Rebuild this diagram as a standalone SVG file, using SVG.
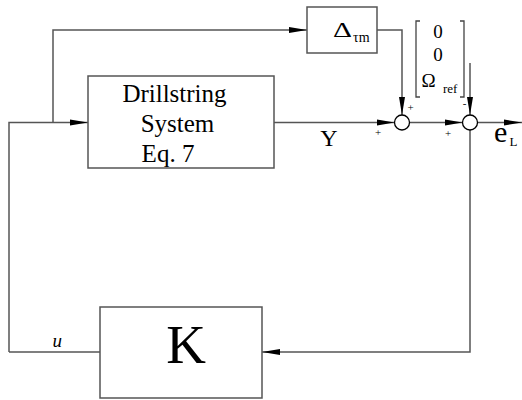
<svg xmlns="http://www.w3.org/2000/svg" width="522" height="400" viewBox="0 0 522 400">
<style>
.ln{fill:none;stroke:#555;stroke-width:1.5}
.bx{fill:#fff;stroke:#555;stroke-width:1.5}
.sj{fill:#fff;stroke:#000;stroke-width:1.3}
.t{font-family:"Liberation Serif","Times New Roman",serif;fill:#000}
</style>
<defs>
<marker id="ah" markerUnits="userSpaceOnUse" markerWidth="18" markerHeight="8" refX="18" refY="4" orient="auto">
<path d="M0,1 L18,4 L0,7 Z" fill="#000"/>
</marker>
</defs>
<rect width="522" height="400" fill="#fff"/>
<g id="connectors">
<path class="ln" d="M53,122.5 V30 H307" marker-end="url(#ah)"/>
<path class="ln" d="M9,352 V122.5 H88" marker-end="url(#ah)"/>
<path class="ln" d="M274,122.5 H394.5" marker-end="url(#ah)"/>
<path class="ln" d="M377,30 H402 V115" marker-end="url(#ah)"/>
<path class="ln" d="M409.5,122.5 H462.5" marker-end="url(#ah)"/>
<path class="ln" d="M470,63 V115" marker-end="url(#ah)"/>
<path class="ln" d="M477.5,122.5 H522" marker-end="url(#ah)"/>
<path class="ln" d="M470,130 V352 H262" marker-end="url(#ah)"/>
<path class="ln" d="M100,352 H9"/>
</g>
<g id="drillstring">
<rect class="bx" x="88" y="76" width="186" height="92"/>
<text class="t" font-size="25" x="174.5" y="101.7" text-anchor="middle">Drillstring</text>
<text class="t" font-size="25" x="177.5" y="131.5" text-anchor="middle">System</text>
<text class="t" font-size="25" x="168" y="161.5" text-anchor="middle">Eq. 7</text>
</g>
<g id="delta">
<rect class="bx" x="307" y="7" width="70" height="46"/>
<text class="t" font-size="21" x="333" y="37" textLength="19" lengthAdjust="spacingAndGlyphs">Δ</text>
<text class="t" font-size="14" x="353" y="42">τm</text>
</g>
<g id="reference">
<path d="M420,21 H416 V97 H420 M460,21 H464 V97 H460" fill="none" stroke="#444" stroke-width="1.3"/>
<text class="t" font-size="19" x="438" y="38" text-anchor="middle">0</text>
<text class="t" font-size="19" x="438" y="61" text-anchor="middle">0</text>
<text class="t" font-size="19" x="421.5" y="87">Ω</text>
<text class="t" font-size="13" x="443" y="93">ref</text>
</g>
<g id="sum1">
<circle class="sj" cx="402" cy="122.5" r="7.5"/>
<text class="t" font-size="11" x="378" y="136" text-anchor="middle">+</text>
<text class="t" font-size="11" x="410.5" y="111" text-anchor="middle">+</text>
</g>
<g id="sum2">
<circle class="sj" cx="470" cy="122.5" r="7.5"/>
<text class="t" font-size="11" x="448" y="137" text-anchor="middle">+</text>
<text class="t" font-size="11" x="464.5" y="107" text-anchor="middle">-</text>
</g>
<g id="K">
<rect class="bx" x="100" y="307" width="162" height="91"/>
<text class="t" font-size="55" x="186" y="363" text-anchor="middle">K</text>
</g>
<g id="labels">
<text class="t" font-size="24" x="329" y="146" text-anchor="middle">Y</text>
<text class="t" font-size="30" x="494" y="142">e</text>
<text class="t" font-size="13" x="509.5" y="146">L</text>
<text class="t" font-size="19" font-style="italic" x="52.5" y="347">u</text>
</g>
</svg>
